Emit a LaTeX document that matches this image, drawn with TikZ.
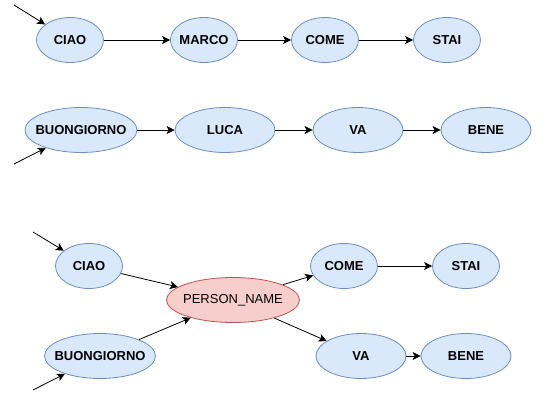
\documentclass[tikz,border=0pt]{standalone}
\usepackage{fontspec}
\setmainfont{Liberation Sans}
\usetikzlibrary{shapes.geometric,arrows.meta}
\definecolor{wordfill}{HTML}{DAE8FC}
\definecolor{wordline}{HTML}{6C8EBF}
\definecolor{namefill}{HTML}{F8CECC}
\definecolor{nameline}{HTML}{B85450}

\begin{document}
\begin{tikzpicture}[x=1pt, y=-1pt, >={Stealth[length=8pt,width=8pt,inset=2pt]},
                    every node/.style={font=\fontsize{13}{15}\selectfont},
                    %% the label is kept out of the shape size, so the ellipse is as wide as asked
                    slim/.style={execute at begin node={\hbox to 0pt\bgroup\hss},
                                 execute at end node={\hss\egroup}},
                    word/.style={ellipse, draw=wordline, fill=wordfill, line width=0.8pt,
                                 inner sep=0pt, minimum width=#1, minimum height=45, slim,
                                 font=\fontsize{13}{15}\selectfont\bfseries},
                    word/.default=67,
                    tagword/.style={ellipse, draw=nameline, fill=namefill, line width=0.8pt,
                                    inner sep=0pt, minimum width=133, minimum height=45, slim},
                    link/.style={->, line width=0.8pt}]

  \useasboundingbox (0,0) rectangle (555,415);

  %% ---- first sentence: CIAO MARCO COME STAI ----
  \coordinate (startA) at (14,5);
  \node[word] (ciaoA) at (70,40) {CIAO};
  \node[word] (marcoA) at (204,40) {MARCO};
  \node[word] (comeA) at (325,40) {COME};
  \node[word] (staiA) at (447,40) {STAI};
  \draw[link] (startA) -- (ciaoA);
  \draw[link] (ciaoA) -- (marcoA);
  \draw[link] (marcoA) -- (comeA);
  \draw[link] (comeA) -- (staiA);

  %% ---- second sentence: BUONGIORNO LUCA VA BENE ----
  \coordinate (startB) at (14,164);
  \node[word=112] (buongiornoB) at (81,130) {BUONGIORNO};
  \node[word=100] (lucaB) at (225,130) {LUCA};
  \node[word=90] (vaB) at (358,130) {VA};
  \node[word=90] (beneB) at (486,130) {BENE};
  \draw[link] (startB) -- (buongiornoB);
  \draw[link] (buongiornoB) -- (lucaB);
  \draw[link] (lucaB) -- (vaB);
  \draw[link] (vaB) -- (beneB);

  %% ---- merged graph: both names become one PERSON_NAME node ----
  \coordinate (startC) at (33,232);
  \coordinate (startD) at (33,390);
  \node[word] (ciaoC) at (89,266) {CIAO};
  \node[word=111] (buongiornoC) at (100,356) {BUONGIORNO};
  \node[tagword] (person) at (233,300) {PERSON\_NAME};
  \node[word] (comeC) at (344,266) {COME};
  \node[word] (staiC) at (466,266) {STAI};
  \node[word=90] (vaC) at (361,356) {VA};
  \node[word=90] (beneC) at (466,356) {BENE};
  \draw[link] (startC) -- (ciaoC);
  \draw[link] (startD) -- (buongiornoC);
  \draw[link] (ciaoC) -- (person);
  \draw[link] (buongiornoC) -- (person);
  \draw[link] (person) -- (comeC);
  \draw[link] (person) -- (vaC);
  \draw[link] (comeC) -- (staiC);
  \draw[link] (vaC) -- (beneC);

\end{tikzpicture}
\end{document}
